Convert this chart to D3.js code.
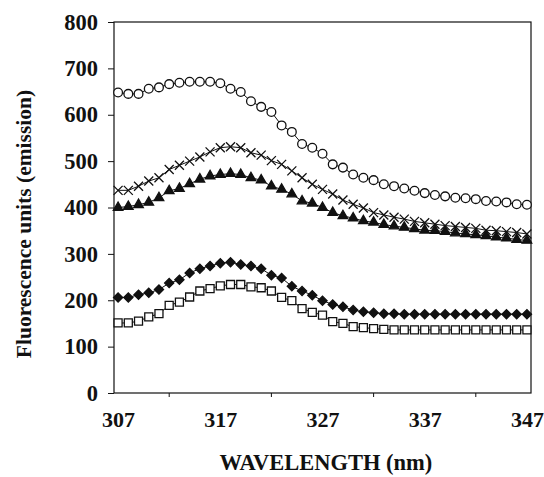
<!DOCTYPE html>
<html>
<head>
<meta charset="utf-8">
<script src="https://cdn.jsdelivr.net/npm/d3@7"></script>
<style>
  html, body { margin: 0; padding: 0; background: #fff; }
  svg { display: block; }
  text { font-family: "Liberation Serif", "Times New Roman", serif; font-weight: bold; fill: #111; }
</style>
</head>
<body>
<div id="chart"></div>
<script>
(function() {
  'use strict';

  // wavelength (nm), one reading per nm
  var wavelengths = [307, 308, 309, 310, 311, 312, 313, 314, 315, 316, 317, 318, 319, 320,
    321, 322, 323, 324, 325, 326, 327, 328, 329, 330, 331, 332, 333, 334, 335, 336, 337,
    338, 339, 340, 341, 342, 343, 344, 345, 346, 347];

  var circles = [648, 645, 645, 656, 659, 666, 669, 671, 671, 671, 668, 656, 649, 629, 617,
    606, 577, 563, 537, 529, 516, 493, 486, 471, 464, 459, 450, 446, 441, 436, 431, 427,
    424, 421, 420, 418, 414, 413, 411, 407, 406];
  var crosses = [437, 437, 446, 457, 464, 482, 491, 500, 509, 520, 529, 531, 529, 518, 513,
    501, 493, 479, 464, 450, 439, 429, 416, 407, 399, 389, 384, 379, 375, 370, 367, 364,
    361, 359, 357, 355, 351, 350, 348, 346, 343];
  var triangles = [400, 402, 406, 411, 421, 436, 441, 451, 461, 468, 471, 473, 471, 464, 459,
    446, 439, 429, 414, 409, 400, 389, 382, 377, 371, 368, 363, 360, 357, 354, 351, 350,
    348, 345, 343, 341, 339, 336, 334, 331, 329];
  var diamonds = [206, 206, 212, 216, 223, 237, 244, 259, 268, 274, 280, 282, 277, 274, 268,
    254, 248, 230, 220, 211, 199, 191, 186, 179, 175, 173, 171, 171, 170, 170, 170, 170,
    170, 170, 170, 170, 170, 170, 170, 170, 170];
  var squares = [151, 151, 155, 164, 171, 189, 196, 207, 220, 225, 231, 234, 234, 229, 227,
    220, 206, 199, 182, 174, 168, 154, 150, 143, 141, 139, 137, 136, 136, 136, 136, 136,
    136, 136, 136, 136, 136, 136, 136, 136, 136];

  var xTickLabels = [307, 317, 327, 337, 347];
  var yTickLabels = [0, 100, 200, 300, 400, 500, 600, 700, 800];

  var width = 544, height = 477;
  var margin = {top: 22, right: 13, bottom: 84, left: 114};
  var plotW = width - margin.left - margin.right;
  var plotH = height - margin.top - margin.bottom;

  var svg = d3.select('#chart')
    .append('svg')
    .attr('width', width)
    .attr('height', height);

  var g = svg.append('g')
    .attr('transform', 'translate(' + margin.left + ',' + margin.top + ')');

  var x = d3.scaleLinear().domain([306.6, 347.4]).range([0, plotW]);
  var y = d3.scaleLinear().domain([0, 800]).range([plotH, 0]);

  // frame
  g.append('rect')
    .attr('x', 0).attr('y', 0)
    .attr('width', plotW).attr('height', plotH)
    .attr('fill', 'none')
    .attr('stroke', '#111')
    .attr('stroke-width', 1.2);

  // y axis
  var yAxis = g.append('g')
    .call(d3.axisLeft(y).tickValues(yTickLabels).tickSize(6).tickPadding(10));
  yAxis.select('.domain').remove();
  yAxis.selectAll('line').attr('stroke', '#111');
  yAxis.selectAll('text').style('font-size', '22.5px');

  // x axis: labels every 10 nm, tick marks between them
  var xAxis = g.append('g')
    .attr('transform', 'translate(0,' + plotH + ')')
    .call(d3.axisBottom(x).tickValues(xTickLabels).tickFormat(d3.format('d'))
      .tickSize(0).tickPadding(34));
  xAxis.select('.domain').remove();
  xAxis.selectAll('text')
    .attr('dy', '0em')
    .style('font-size', '22px');

  g.append('g')
    .selectAll('line')
    .data([312, 322, 332, 342])
    .join('line')
    .attr('x1', function(d) { return x(d); })
    .attr('x2', function(d) { return x(d); })
    .attr('y1', plotH)
    .attr('y2', plotH + 4)
    .attr('stroke', '#111');

  // axis titles
  svg.append('text')
    .attr('x', 326)
    .attr('y', 470)
    .attr('text-anchor', 'middle')
    .style('font-size', '22.5px')
    .text('WAVELENGTH (nm)');

  svg.append('text')
    .attr('transform', 'translate(31,224) rotate(-90)')
    .attr('text-anchor', 'middle')
    .style('font-size', '21.5px')
    .text('Fluorescence units (emission)');

  var line = d3.line()
    .x(function(d, i) { return x(wavelengths[i]); })
    .y(function(d) { return y(d); });

  var crossPath = 'M-4.5,-4.5L4.5,4.5M-4.5,4.5L4.5,-4.5';

  var series = [
    {values: circles, shape: d3.symbolCircle, size: 60, fill: '#fff', rotate: 0},
    {values: crosses, shape: null, fill: 'none', rotate: 0},
    {values: triangles, shape: d3.symbolTriangle, size: 40, fill: '#111', rotate: 0},
    {values: diamonds, shape: d3.symbolSquare, size: 42, fill: '#111', rotate: 45},
    {values: squares, shape: d3.symbolSquare, size: 64, fill: '#fff', rotate: 0}
  ];

  series.forEach(function(s) {
    g.append('path')
      .datum(s.values)
      .attr('fill', 'none')
      .attr('stroke', '#111')
      .attr('stroke-width', 1)
      .attr('d', line);

    g.append('g')
      .selectAll('path')
      .data(s.values)
      .join('path')
      .attr('transform', function(d, i) {
        return 'translate(' + x(wavelengths[i]) + ',' + y(d) + ') rotate(' + s.rotate + ')';
      })
      .attr('d', s.shape ? d3.symbol().type(s.shape).size(s.size) : crossPath)
      .attr('fill', s.fill)
      .attr('stroke', '#111')
      .attr('stroke-width', 1.3);
  });
})();
</script>
</body>
</html>
